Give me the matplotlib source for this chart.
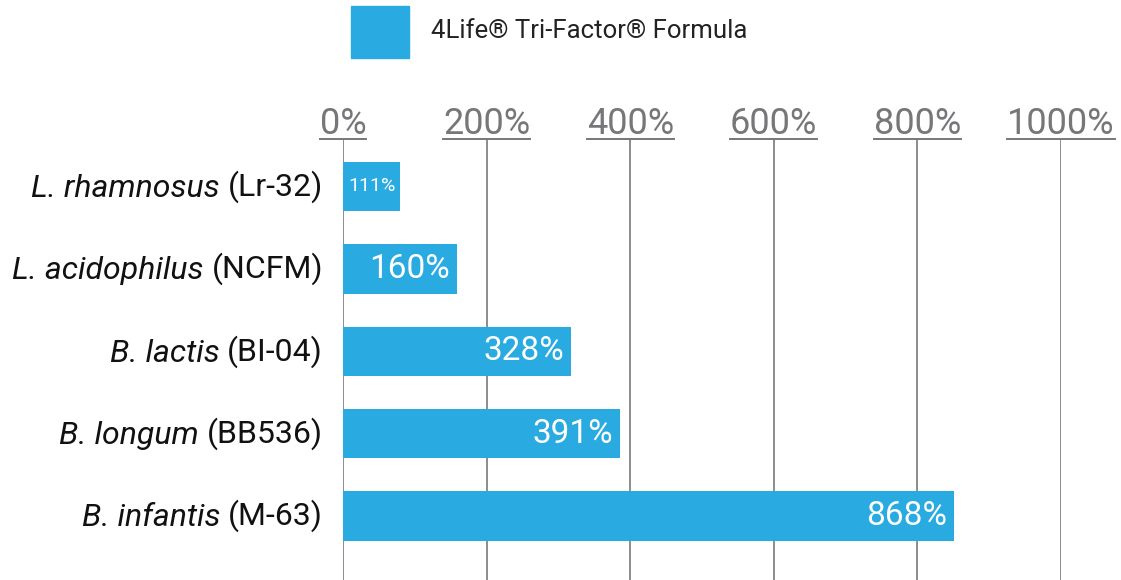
import matplotlib
matplotlib.use("Agg")
import matplotlib.pyplot as plt
from matplotlib.lines import Line2D
from matplotlib.patches import Rectangle

# data
species = ["L. rhamnosus", "L. acidophilus", "B. lactis", "B. longum", "B. infantis"]
strains = ["(Lr-32)", "(NCFM)", "(BI-04)", "(BB536)", "(M-63)"]
bar_values = [80, 159, 318, 386, 851]          # bar lengths as drawn
value_labels = ["111%", "160%", "328%", "391%", "868%"]
x_ticks = [0, 200, 400, 600, 800, 1000]
x_ticklabels = ["0%", "200%", "400%", "600%", "800%", "1000%"]
series_name = "4Life\u00ae Tri-Factor\u00ae Formula"

BLUE = "#29abe2"
GRID = "#8c8c8c"
TICK = "#77777a"
FONT = "Roboto"

W, H = 1121, 580
fig = plt.figure(figsize=(W / 100, H / 100), dpi=100)
ax = fig.add_axes([343 / W, 0, (1061 - 343) / W, (H - 139) / H])

ypos = list(range(len(species)))
ax.barh(ypos, bar_values, height=0.6, color=BLUE, zorder=3)

ax.set_xlim(0, 1000)
ax.set_ylim(4.777, -0.576)
for s in ax.spines.values():
    s.set_visible(False)
ax.set_yticks([])
ax.xaxis.tick_top()
ax.set_xticks(x_ticks)
ax.set_xticklabels(x_ticklabels, fontsize=26, color=TICK, family=FONT)
ax.tick_params(axis="x", length=0, pad=-2.5)
for x in x_ticks:
    ax.axvline(x, color=GRID, lw=1.4, zorder=1)

# category labels: italic species + upright strain, right aligned
for y, sp, st in zip(ypos, species, strains):
    t2 = ax.annotate(st, xy=(0, y), xycoords="data", xytext=(-20, 0),
                     textcoords="offset pixels", ha="right", va="center",
                     fontsize=23, family=FONT, color="#111111")
    ax.annotate(sp + " ", xy=(0, 0), xycoords=t2, ha="right", va="bottom",
                fontsize=23, family=FONT, style="italic", color="#111111")

# value labels inside bars
for y, v, lab in zip(ypos, bar_values, value_labels):
    if v < 100:
        ax.text(v / 2, y, lab, ha="center", va="center", color="white",
                fontsize=14, family=FONT, zorder=4)
    else:
        ax.annotate(lab, xy=(v, y), xytext=(-7, 0), textcoords="offset pixels",
                    ha="right", va="center", color="white", fontsize=24,
                    family=FONT, zorder=4)

# legend
fig.patches.append(Rectangle((351 / W, 1 - 58 / H), 58 / W, 52 / H,
                             transform=fig.transFigure, color=BLUE))
fig.text(431 / W, 1 - 31 / H, series_name, ha="left", va="center",
         fontsize=18.5, family=FONT, color="#222222")

# underline each tick label
fig.canvas.draw()
r = fig.canvas.get_renderer()
ytop = ax.get_position().y1 * H
for lab in ax.get_xticklabels():
    bb = lab.get_window_extent(r)
    fig.lines.append(Line2D([bb.x0 / W, bb.x1 / W], [ytop / H, ytop / H],
                            transform=fig.transFigure, color=TICK, lw=1.4))

fig.savefig("out.png", dpi=100)
